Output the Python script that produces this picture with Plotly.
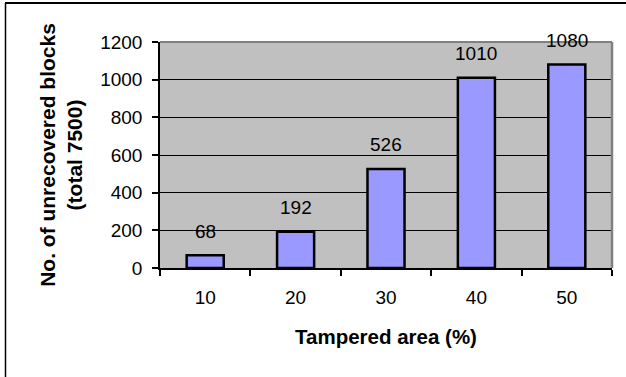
import plotly.graph_objects as go

categories = ["10", "20", "30", "40", "50"]
values = [68, 192, 526, 1010, 1080]
y_ticks = [0, 200, 400, 600, 800, 1000, 1200]
y_title = "No. of unrecovered blocks<br>(total 7500)"
x_title = "Tampered area (%)"

W, H = 626, 377
L, R, T, B = 160, 14, 42, 109
pw, ph = W - L - R, H - T - B

FONT = "Liberation Sans, Arial, sans-serif"

fig = go.Figure()
fig.add_trace(go.Bar(
    x=categories, y=values,
    marker=dict(color="#9999FF", line=dict(color="black", width=2.5)),
    width=0.41,
    hoverinfo="skip",
))

# data labels (category axis: position by category index)
for i, v in enumerate(values):
    fig.add_annotation(x=i, y=v, text=str(v), showarrow=False,
                       yshift=24, yanchor="middle", xanchor="center",
                       font=dict(family=FONT, size=19, color="black"))

def px_x(p):
    return (p - L) / pw

def px_y(p):
    return (H - B - p) / ph

shapes = [
    dict(type="line", xref="paper", yref="paper", x0=0, x1=1, y0=1, y1=1,
         line=dict(color="#808080", width=2), layer="above"),
    dict(type="line", xref="paper", yref="paper", x0=1, x1=1, y0=0, y1=1,
         line=dict(color="#808080", width=2.5), layer="above"),
    # outer chart frame: left and top edges
    dict(type="line", xref="paper", yref="paper",
         x0=px_x(5.5), x1=px_x(5.5), y0=px_y(3), y1=px_y(H + 5),
         line=dict(color="black", width=1.5), layer="above"),
    dict(type="line", xref="paper", yref="paper",
         x0=px_x(5), x1=px_x(W + 5), y0=px_y(3), y1=px_y(3),
         line=dict(color="black", width=2), layer="above"),
]

fig.update_layout(
    width=W, height=H,
    margin=dict(l=L, r=R, t=T, b=B, pad=0),
    paper_bgcolor="white",
    plot_bgcolor="#C0C0C0",
    showlegend=False,
    font=dict(family=FONT, size=19, color="black"),
    shapes=shapes,
)

fig.update_xaxes(
    type="category", categoryorder="array", categoryarray=categories,
    range=[-0.5, len(categories) - 0.5],
    tickson="boundaries", tickangle=0,
    ticks="outside", ticklen=6, tickwidth=1.5, tickcolor="black",
    showline=True, linecolor="black", linewidth=2,
    showgrid=False, zeroline=False,
    tickfont=dict(family=FONT, size=19),
    ticklabelstandoff=11,
    title=dict(text="<b>" + x_title + "</b>", font=dict(family=FONT, size=20.5), standoff=23),
)
fig.update_yaxes(
    range=[0, 1200], tickvals=y_ticks, ticktext=[str(v) for v in y_ticks],
    ticks="outside", ticklen=6, tickwidth=1.5, tickcolor="black",
    showline=True, linecolor="black", linewidth=1.5,
    showgrid=True, gridcolor="black", gridwidth=1,
    zeroline=False,
    tickfont=dict(family=FONT, size=19),
    ticklabelstandoff=6,
    title=dict(text="<b>" + y_title + "</b>", font=dict(family=FONT, size=21), standoff=12),
)

fig.write_html("out.html", config={"displayModeBar": False},
               post_script="document.body.style.margin='0';")
